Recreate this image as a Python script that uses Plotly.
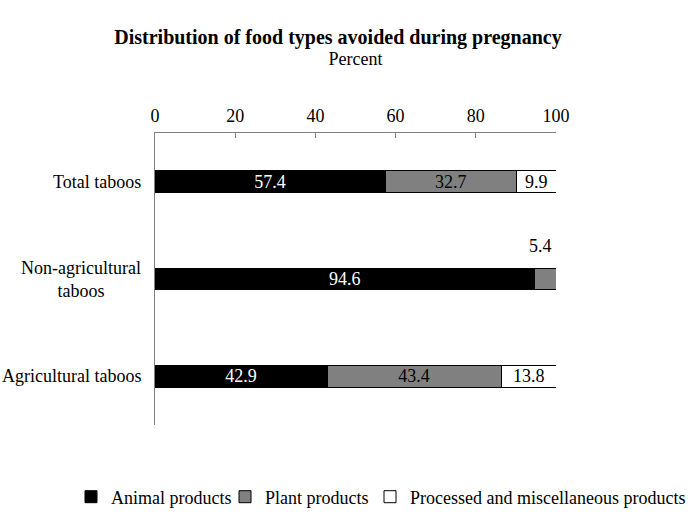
import plotly.graph_objects as go

categories = ["Total taboos", "Non-agricultural taboos", "Agricultural taboos"]
cat_labels = ["Total taboos", "Non-agricultural<br>taboos", "Agricultural taboos"]
animal = [57.4, 94.6, 42.9]
plant = [32.7, 5.4, 43.4]
processed = [9.9, 0.0, 13.8]
series_names = ["Animal products", "Plant products", "Processed and miscellaneous products"]
x_ticks = [0, 20, 40, 60, 80, 100]

FONT = "Liberation Serif"
FS = 18
W, H = 688, 516
PL, PR, PT, PB = 155, 556, 133, 425  # plot area in pixels
LEGEND_LEFT = [71, 225, 370]          # legend entry positions in pixels
LEGEND_Y = 497
fig = go.Figure()

def fmt(vals, hide=()):
    return [("" if (i in hide or v == 0) else f"{v:.1f}") for i, v in enumerate(vals)]

common = dict(orientation="h", textposition="inside", insidetextanchor="middle",
              constraintext="none", textangle=0, width=0.22)

fig.add_trace(go.Bar(
    y=categories, x=animal, name=series_names[0], legend="legend",
    marker=dict(color="#000000", line=dict(color="#000000", width=1)),
    text=fmt(animal), textfont=dict(color="white", size=FS, family=FONT), **common,
))
fig.add_trace(go.Bar(
    y=categories, x=plant, name=series_names[1], legend="legend2",
    marker=dict(color="#808080", line=dict(color="#000000", width=1)),
    text=fmt(plant, hide=(1,)), textfont=dict(color="black", size=FS, family=FONT), **common,
))
fig.add_trace(go.Bar(
    y=categories, x=processed, name=series_names[2], legend="legend3",
    marker=dict(color="#ffffff", line=dict(color="#000000", width=1)),
    text=fmt(processed), textfont=dict(color="black", size=FS, family=FONT), **common,
))

# label for the small plant segment of Non-agricultural taboos, shown above the bar
fig.add_annotation(x=animal[1] + plant[1], y=categories[1], xref="x", yref="y",
                   text=f"{plant[1]:.1f}", showarrow=False, xanchor="right",
                   yshift=33, xshift=-2, font=dict(size=FS, family=FONT, color="black"))

for c, lab in zip(categories, cat_labels):
    fig.add_annotation(x=0, y=c, xref="paper", yref="y", text=lab, showarrow=False,
                       xanchor="right", align="center", xshift=-12,
                       font=dict(size=FS, family=FONT, color="black"))

plot_w = PR - PL
plot_h = PB - PT

def legend_at(px):
    return dict(orientation="h", xref="paper", yref="paper",
                x=(px - PL) / plot_w, xanchor="left",
                y=-(LEGEND_Y - PB) / plot_h, yanchor="middle",
                font=dict(size=FS, family=FONT), itemwidth=30,
                bgcolor="rgba(0,0,0,0)")

fig.update_layout(
    barmode="stack",
    width=W, height=H,
    margin=dict(l=PL, r=W - PR, t=PT, b=H - PB, autoexpand=False),
    paper_bgcolor="white", plot_bgcolor="white",
    font=dict(family=FONT, size=FS, color="black"),
    title=dict(text="<b>Distribution of food types avoided during pregnancy</b>",
               x=338 / W, xanchor="center", xref="container", yref="container",
               y=1 - 37 / H, yanchor="middle", font=dict(size=20, family=FONT)),
    xaxis=dict(side="top", range=[0, 100], tickvals=x_ticks, ticks="inside", ticklen=5,
               tickcolor="#808080", showline=True, linecolor="#808080", linewidth=1,
               showgrid=False, zeroline=False, tickfont=dict(size=FS), ticklabelstandoff=3,
               title=dict(text="Percent", standoff=35, font=dict(size=FS))),
    yaxis=dict(categoryorder="array", categoryarray=categories, autorange="reversed",
               showticklabels=False, ticks="", showline=True, linecolor="#808080",
               linewidth=1, showgrid=False, zeroline=False),
    legend=legend_at(LEGEND_LEFT[0]),
    legend2=legend_at(LEGEND_LEFT[1]),
    legend3=legend_at(LEGEND_LEFT[2]),
    showlegend=True,
)

fig.write_html("out.html", config={"displayModeBar": False},
               post_script="document.body.style.margin='0';")
